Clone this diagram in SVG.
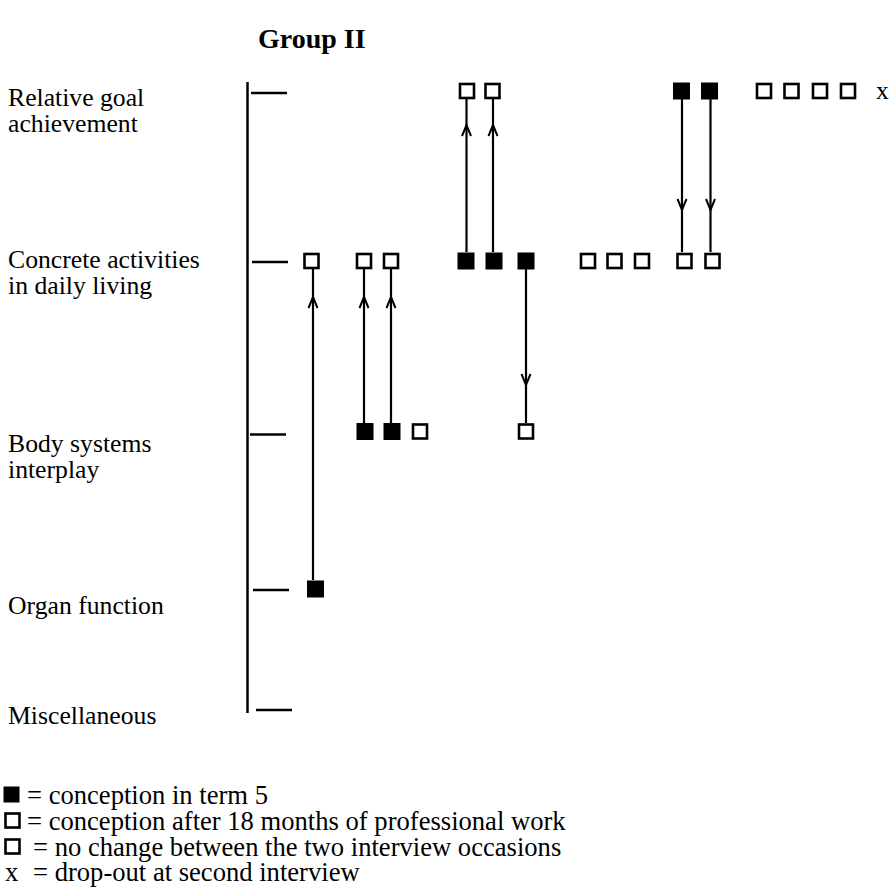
<svg xmlns="http://www.w3.org/2000/svg" width="892" height="889" viewBox="0 0 892 889">
  <style>
    text { font-family: "Liberation Serif", "Times New Roman", serif; font-size: 25.7px; fill: #000; }
    .title { font-weight: bold; font-size: 28px; }
    .key { font-size: 26.6px; }
    .axis { stroke: #000; stroke-width: 2.5; fill: none; }
    .open { fill: #fff; stroke: #000; stroke-width: 2.6; }
    .filled { fill: #000; stroke: #000; stroke-width: 1; }
    .conn { stroke: #000; stroke-width: 2.2; fill: none; marker-mid: url(#ah); }
  </style>
  <defs>
    <marker id="ah" viewBox="-13 -6 15 12" refX="0" refY="0" markerWidth="15" markerHeight="12" orient="auto" markerUnits="userSpaceOnUse">
      <path d="M-11,-4.5 L0,0 L-11,4.5" fill="none" stroke="#000" stroke-width="2"/>
    </marker>
    <rect id="sqO" class="open" x="-7" y="-7" width="14" height="14"/>
    <rect id="sqF" class="filled" x="-8" y="-8" width="16" height="16"/>
  </defs>

  <rect width="892" height="889" fill="#fff"/>

  <text class="title" x="258" y="48">Group II</text>

  <!-- level axis -->
  <g id="axis">
    <line class="axis" x1="247.5" y1="82" x2="247.5" y2="713"/>
    <line class="axis" x1="251" y1="93" x2="287" y2="93"/>
    <line class="axis" x1="252" y1="262" x2="288" y2="262"/>
    <line class="axis" x1="250" y1="434.5" x2="286" y2="434.5"/>
    <line class="axis" x1="253" y1="590" x2="289" y2="590"/>
    <line class="axis" x1="256" y1="710" x2="292" y2="710"/>
  </g>

  <!-- level labels -->
  <g id="label-goal"><text x="8" y="106">Relative goal</text><text x="8" y="132">achievement</text></g>
  <g id="label-activities"><text x="8" y="268">Concrete activities</text><text x="8" y="294">in daily living</text></g>
  <g id="label-body"><text x="8" y="452">Body systems</text><text x="8" y="478">interplay</text></g>
  <g id="label-organ"><text x="8" y="614">Organ function</text></g>
  <g id="label-misc"><text x="8" y="724">Miscellaneous</text></g>

  <!-- connectors: change of conception between interviews -->
  <g id="connectors">
    <path class="conn" d="M313,580 L313,297 L313,269"/>
    <path class="conn" d="M364,423 L364,297 L364,269"/>
    <path class="conn" d="M391,423 L391,297 L391,269"/>
    <path class="conn" d="M466.5,252 L466.5,125 L466.5,99"/>
    <path class="conn" d="M493,252 L493,125 L493,99"/>
    <path class="conn" d="M526,269 L526,385 L526,423"/>
    <path class="conn" d="M682,99 L682,210 L682,252"/>
    <path class="conn" d="M710.5,99 L710.5,210 L710.5,252"/>
  </g>

  <!-- row: relative goal achievement -->
  <g id="goal-1"><use href="#sqO" x="467" y="91"/></g>
  <g id="goal-2"><use href="#sqO" x="492.5" y="91"/></g>
  <g id="goal-3"><use href="#sqF" x="681.5" y="91"/></g>
  <g id="goal-4"><use href="#sqF" x="709.5" y="91"/></g>
  <g id="goal-5"><use href="#sqO" x="764" y="91"/></g>
  <g id="goal-6"><use href="#sqO" x="791.5" y="91"/></g>
  <g id="goal-7"><use href="#sqO" x="820" y="91"/></g>
  <g id="goal-8"><use href="#sqO" x="848" y="91"/></g>
  <g id="goal-dropout"><text x="876" y="99">x</text></g>

  <!-- row: concrete activities in daily living -->
  <g id="act-1"><use href="#sqO" x="311.5" y="261"/></g>
  <g id="act-2"><use href="#sqO" x="364" y="261"/></g>
  <g id="act-3"><use href="#sqO" x="391" y="261"/></g>
  <g id="act-4"><use href="#sqF" x="466" y="261"/></g>
  <g id="act-5"><use href="#sqF" x="494" y="261"/></g>
  <g id="act-6"><use href="#sqF" x="526" y="261"/></g>
  <g id="act-7"><use href="#sqO" x="588" y="261"/></g>
  <g id="act-8"><use href="#sqO" x="614.5" y="261"/></g>
  <g id="act-9"><use href="#sqO" x="642" y="261"/></g>
  <g id="act-10"><use href="#sqO" x="684.5" y="261"/></g>
  <g id="act-11"><use href="#sqO" x="712.5" y="261"/></g>

  <!-- row: body systems interplay -->
  <g id="body-1"><use href="#sqF" x="365" y="431.5"/></g>
  <g id="body-2"><use href="#sqF" x="392" y="431.5"/></g>
  <g id="body-3"><use href="#sqO" x="420" y="431.5"/></g>
  <g id="body-4"><use href="#sqO" x="526" y="431.5"/></g>

  <!-- row: organ function -->
  <g id="organ-1"><use href="#sqF" x="315.5" y="589"/></g>

  <!-- key -->
  <g id="legend">
    <rect class="filled" x="4" y="787" width="15" height="15"/>
    <text class="key" x="27" y="804">= conception in term 5</text>
    <rect class="open" x="5.5" y="813.5" width="14" height="14"/>
    <text class="key" x="27" y="830">= conception after 18 months of professional work</text>
    <rect class="open" x="5.5" y="839.5" width="14" height="14"/>
    <text class="key" x="33" y="856">= no change between the two interview occasions</text>
    <text class="key" x="5" y="881">x</text>
    <text class="key" x="33" y="881">= drop-out at second interview</text>
  </g>
</svg>
